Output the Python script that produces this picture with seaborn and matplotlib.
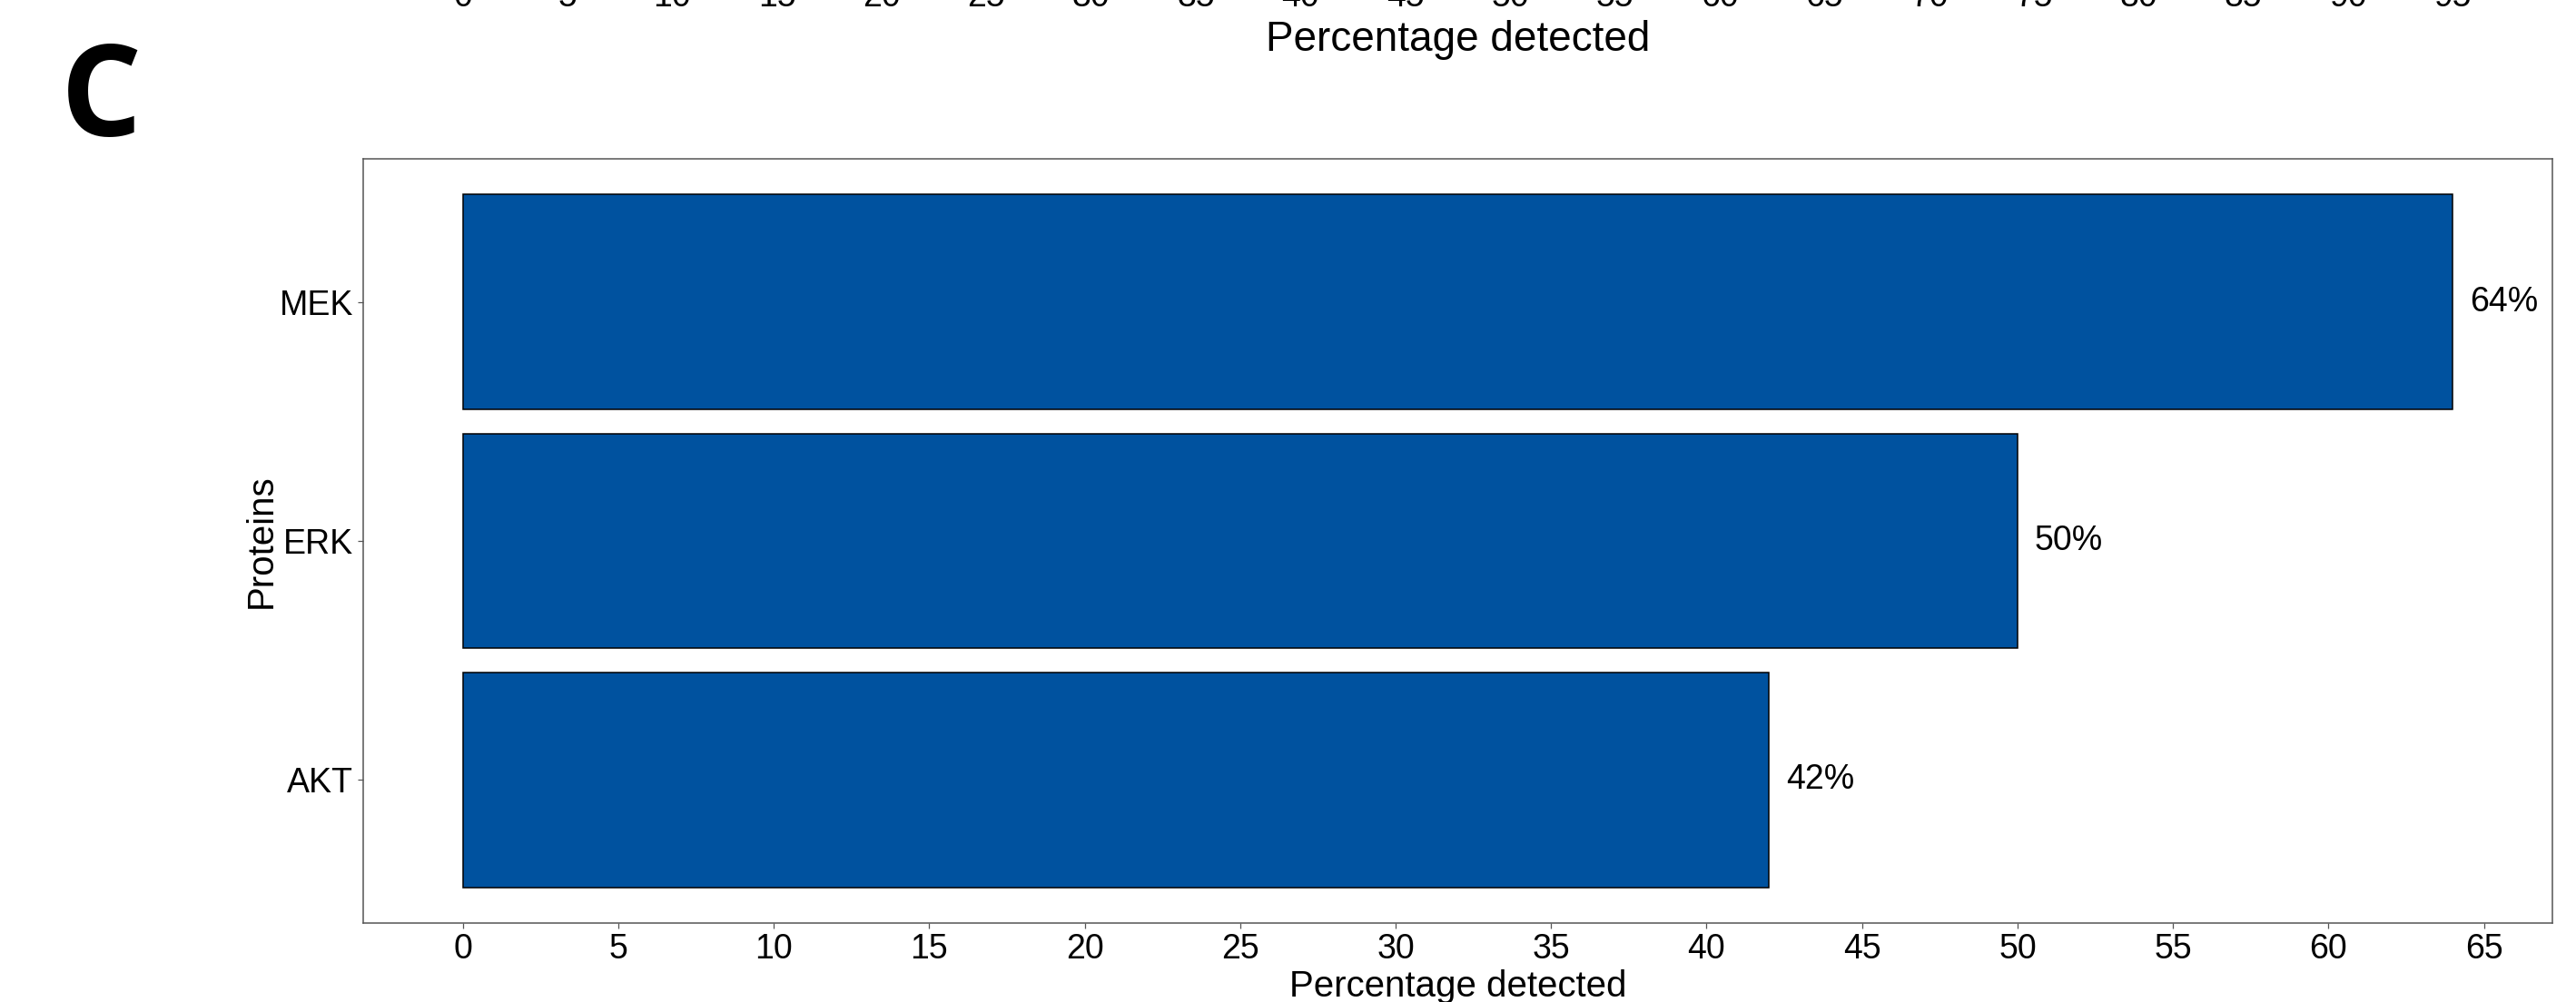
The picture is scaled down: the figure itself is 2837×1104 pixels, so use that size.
import matplotlib
matplotlib.use("Agg")
import matplotlib.pyplot as plt
import seaborn as sns
import pandas as pd

# ---- data ----
proteins = ["MEK", "ERK", "AKT"]
percentages = [64, 50, 42]
x_ticks = list(range(0, 70, 5))
top_panel_ticks = list(range(0, 100, 5))
x_label = "Percentage detected"
y_label = "Proteins"
panel_letter = "C"

bar_color = "#00529F"

sns.set_theme(style="white")
plt.rcParams["font.family"] = ["Liberation Sans", "DejaVu Sans"]
plt.rcParams["text.color"] = "black"
plt.rcParams["axes.labelcolor"] = "black"
plt.rcParams["xtick.labelcolor"] = "black"
plt.rcParams["ytick.labelcolor"] = "black"

W, H, DPI = 2837, 1104, 100
fig = plt.figure(figsize=(W / DPI, H / DPI), dpi=DPI)
fig.patch.set_facecolor("white")

# main axes
L, R, T, B = 400, 2811, 175, 1017
ax = fig.add_axes([L / W, (H - B) / H, (R - L) / W, (B - T) / H])

df = pd.DataFrame({"Proteins": proteins, "Percentage": percentages})
sns.barplot(data=df, x="Percentage", y="Proteins", orient="h", color=bar_color,
            saturation=1, width=0.9, edgecolor="black", linewidth=1.1, ax=ax)

ax.set_xlim(-3.2, 67.2)
ax.set_ylim(2.6, -0.6)
ax.set_xticks(x_ticks)
ax.set_xticklabels([str(t) for t in x_ticks])
ax.tick_params(axis="both", which="both", length=4.3, width=0.9, color="#555555",
               labelsize=27, labelcolor="black", pad=3.5,
               bottom=True, left=True)
ax.set_xlabel(x_label, fontsize=29, labelpad=3, color="black")
ax.set_ylabel(y_label, fontsize=29, labelpad=1, color="black")
for s in ax.spines.values():
    s.set_visible(True)
    s.set_color("#555555")
    s.set_linewidth(1.1)

ax.bar_label(ax.containers[0], labels=[f"{v}%" for v in percentages],
             padding=13.7, fontsize=27, color="black")

# remnant of the panel above (only its x axis labels peek into the figure)
ax_top = fig.add_axes([L / W, 1135 / H, (R - L) / W, 0.3])
ax_top.set_xlim(-4.75, 99.75)
ax_top.set_xticks(top_panel_ticks)
ax_top.set_xticklabels([str(t) for t in top_panel_ticks])
ax_top.set_yticks([])
ax_top.tick_params(axis="x", length=4.3, labelsize=27, pad=3, bottom=True,
                   labelcolor="black")
ax_top.set_xlabel(x_label, fontsize=33, labelpad=5, color="black")
ax_top.patch.set_alpha(0)
for s in ax_top.spines.values():
    s.set_visible(False)

# panel letter
fig.text(67 / W, (H - 150) / H, panel_letter, fontsize=101, fontweight="bold",
         family=["Open Sans", "DejaVu Sans"], va="baseline", ha="left",
         color="black")

fig.savefig("out.png", dpi=DPI)
